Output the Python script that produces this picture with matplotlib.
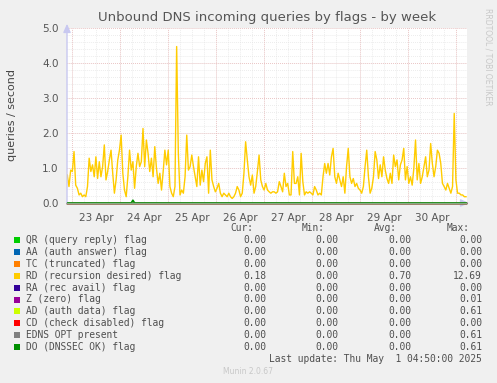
import numpy as np
import pandas as pd
import matplotlib
matplotlib.use("Agg")
import matplotlib.pyplot as plt
from matplotlib.patches import Rectangle

# ---------------------------------------------------------------
# Data
# ---------------------------------------------------------------
title = "Unbound DNS incoming queries by flags - by week"
ylabel = "queries / second"

t_first = "2025-04-22 21:39"   # first sample
t_last = "2025-05-01 05:00"    # last sample
x_from = "2025-04-22 21:30"
x_to = "2025-05-01 05:30"

day_labels = ["23 Apr", "24 Apr", "25 Apr", "26 Apr", "27 Apr", "28 Apr", "29 Apr", "30 Apr"]

# RD (recursion desired) flag, queries / second
rd_values = [
    0.80, 0.47, 0.94, 0.90, 1.47, 0.51, 0.42, 0.23, 0.28, 0.18, 0.23, 0.18, 0.47, 1.28, 0.90, 1.09,
    0.75, 1.32, 0.70, 1.18, 0.75, 1.04, 1.66, 0.66, 0.90, 1.23, 1.51, 0.85, 0.28, 0.66, 1.23, 1.51,
    1.94, 0.85, 0.37, 0.18, 0.75, 1.51, 0.94, 1.18, 0.42, 1.04, 1.42, 1.04, 1.18, 2.13, 1.04, 1.80,
    1.42, 0.90, 1.28, 0.75, 1.61, 0.99, 0.56, 0.85, 0.37, 0.90, 1.51, 1.09, 1.51, 0.47, 0.28, 0.18,
    0.47, 4.47, 1.42, 0.23, 0.37, 0.28, 0.75, 1.94, 0.94, 1.04, 1.37, 1.04, 0.75, 0.47, 1.32, 0.51,
    0.94, 0.61, 1.13, 1.32, 0.28, 1.51, 0.66, 0.47, 0.32, 0.42, 0.56, 0.28, 0.18, 0.28, 0.23, 0.18,
    0.28, 0.18, 0.13, 0.18, 0.28, 0.47, 0.37, 0.18, 0.28, 0.85, 1.75, 1.23, 0.75, 0.51, 0.80, 0.28,
    0.47, 0.90, 1.37, 0.66, 0.47, 0.37, 0.56, 0.37, 0.32, 0.28, 0.32,
    0.32, 0.28, 0.32, 0.61, 0.47, 0.32, 0.85, 0.47, 0.56, 0.23, 0.23, 1.47, 0.56, 0.56, 0.75, 0.23,
    1.42, 0.61, 0.23, 0.32, 0.28, 0.32, 0.28, 0.23, 0.47, 0.37, 0.23, 0.28, 0.23, 0.75, 1.13, 0.85,
    1.13, 0.80, 1.32, 1.56, 0.75, 0.56, 0.85, 0.66, 0.47, 0.75, 0.28, 1.04, 1.56, 0.75, 0.56, 0.70,
    0.47, 0.56, 0.42, 0.37, 0.28, 0.47, 1.04, 1.51, 0.75, 0.28, 0.42, 0.75, 1.47, 1.23, 0.70, 1.09,
    0.75, 1.32, 0.94, 0.70, 0.56, 0.85, 0.56, 1.37, 1.04, 1.23, 0.66, 1.09, 1.23, 1.56, 0.66, 1.04,
    0.56, 0.75, 0.51, 0.99, 1.80, 0.66, 1.13, 0.56, 0.75, 1.04, 1.32, 0.75, 0.94, 1.70, 1.13, 0.75,
    1.04, 1.51, 1.42, 1.13, 0.56, 0.47, 0.37, 0.56, 0.42, 0.28, 0.47, 2.56, 0.66, 0.28, 0.28, 0.23,
    0.23, 0.18, 0.18,
]

# DO (DNSSEC OK) flag: a single small bump, zero elsewhere
do_spike_time = "2025-04-24 06:09"
do_spike_value = 0.08

names = ["QR (query reply) flag", "AA (auth answer) flag", "TC (truncated) flag",
         "RD (recursion desired) flag", "RA (rec avail) flag", "Z (zero) flag",
         "AD (auth data) flag", "CD (check disabled) flag", "EDNS OPT present",
         "DO (DNSSEC OK) flag"]
colors = ["#00CC00", "#0066B3", "#FF8000", "#FFCC00", "#330099",
          "#990099", "#CCFF00", "#FF0000", "#808080", "#008F00"]
cur_vals = [0.00, 0.00, 0.00, 0.18, 0.00, 0.00, 0.00, 0.00, 0.00, 0.00]
min_vals = [0.00, 0.00, 0.00, 0.00, 0.00, 0.00, 0.00, 0.00, 0.00, 0.00]
avg_vals = [0.00, 0.00, 0.00, 0.70, 0.00, 0.00, 0.00, 0.00, 0.00, 0.00]
max_vals = [0.00, 0.00, 0.00, 12.69, 0.00, 0.01, 0.61, 0.00, 0.61, 0.61]

last_update = "Last update: Thu May  1 04:50:00 2025"
footer = "Munin 2.0.67"
watermark = "RRDTOOL / TOBI OETIKER"

# ---------------------------------------------------------------
# Figure
# ---------------------------------------------------------------
W, H = 497, 383
fig = plt.figure(figsize=(W / 100, H / 100), dpi=100, facecolor="#F0F0F0")

def fx(px):
    return px / W

def fy(py):
    return 1 - py / H

# plot area in pixels: x 67..467, y 28..203
ax = fig.add_axes([fx(67), fy(203), 400 / W, 175 / H])
ax.set_facecolor("white")

times = pd.date_range(t_first, t_last, periods=len(rd_values))
zero = np.zeros(len(times))
do_series = pd.Series(0.0, index=times)
do_series.iloc[times.get_indexer([pd.Timestamp(do_spike_time)], method="nearest")[0]] = do_spike_value

ax.set_xlim(pd.Timestamp(x_from), pd.Timestamp(x_to))
ax.set_ylim(0, 5.0)

# grid: minor grey every 6h / 0.2, major red every day / 1.0
days = pd.date_range("2025-04-23", "2025-05-01", freq="D")
six_h = pd.date_range("2025-04-22 18:00", "2025-05-01 06:00", freq="6h")
dots = (0, (1.0, 1.6))
for t in six_h:
    ax.axvline(t, color="#E2E2E2", lw=0.55, ls=dots, zorder=0)
for v in np.arange(0.2, 5.01, 0.2):
    ax.axhline(v, color="#E2E2E2", lw=0.55, ls=dots, zorder=0)
for t in days:
    ax.axvline(t, color="#EBB0B0", lw=0.55, ls=dots, zorder=1)
for v in np.arange(1.0, 5.01, 1.0):
    ax.axhline(v, color="#EBB0B0", lw=0.55, ls=dots, zorder=1)

# series
for n, c in zip(names, colors):
    if n.startswith("RD"):
        ax.plot(times, rd_values, color=c, lw=1.0, zorder=3)
    elif n.startswith("DO"):
        ax.plot(times, do_series.values, color=c, lw=1.2, zorder=5)
    else:
        ax.plot(times, zero, color=c, lw=1.0, zorder=3, clip_on=False)

for s in ax.spines.values():
    s.set_visible(False)
ax.tick_params(axis="both", length=0)
ax.set_xticks([])
ax.set_yticks(np.arange(0, 5.01, 1.0))
ax.set_yticklabels(["%.1f" % v for v in np.arange(0, 5.01, 1.0)], fontsize=7.5, color="#555555")
ax.tick_params(axis="y", pad=6)

# axis arrows
ax.annotate("", xy=(fx(67), fy(21)), xytext=(fx(67), fy(206)), xycoords="figure fraction",
            arrowprops=dict(arrowstyle="-|>,head_length=0.5,head_width=0.22", color="#C8C8F0", lw=1.0))
ax.annotate("", xy=(fx(472), fy(203)), xytext=(fx(64), fy(203)), xycoords="figure fraction",
            arrowprops=dict(arrowstyle="-|>,head_length=0.5,head_width=0.22", color="#C8C8F0", lw=1.0), zorder=0)
# zero line as it looks in the reference (all flat series stacked, muted green)
ax.plot(times, zero, color="#86AE86", lw=1.0, zorder=6, clip_on=False)

# day labels centred at noon
for t, lab in zip(days, day_labels):
    ax.text(t + pd.Timedelta(hours=12), -0.055, lab, transform=ax.get_xaxis_transform(),
            ha="center", va="top", fontsize=7.5, color="#555555")

fig.text(fx(267), fy(18), title, ha="center", va="center", fontsize=9.5, color="#555555")
fig.text(fx(12), fy(115), ylabel, ha="center", va="center", rotation=90, fontsize=8, color="#444444")
fig.text(fx(488), fy(8), watermark, ha="center", va="top", rotation=270, fontsize=5.5, color="#C8C8C8")

# legend
mono = dict(family="DejaVu Sans Mono", fontsize=6.9, color="#505050")
for hdr, xr in zip(["Cur:", "Min:", "Avg:", "Max:"], [253, 325, 397, 470]):
    fig.text(fx(xr), fy(228), hdr, ha="right", va="center", **mono)
for i, n in enumerate(names):
    y = 240 + i * 11.9
    fig.add_artist(Rectangle((fx(14), fy(y + 3)), 6 / W, 6 / H, transform=fig.transFigure,
                             facecolor=colors[i], edgecolor="none"))
    fig.text(fx(26), fy(y), n, ha="left", va="center", **mono)
    for vals, xr in zip([cur_vals, min_vals, avg_vals, max_vals], [266, 338, 411, 482]):
        fig.text(fx(xr), fy(y), "%.2f" % vals[i], ha="right", va="center", **mono)
fig.text(fx(482), fy(359), last_update, ha="right", va="center", **mono)
fig.text(fx(248), fy(372), footer, ha="center", va="center", fontsize=5.5, color="#C8C8C8")

fig.savefig("out.png", dpi=100, facecolor=fig.get_facecolor())
